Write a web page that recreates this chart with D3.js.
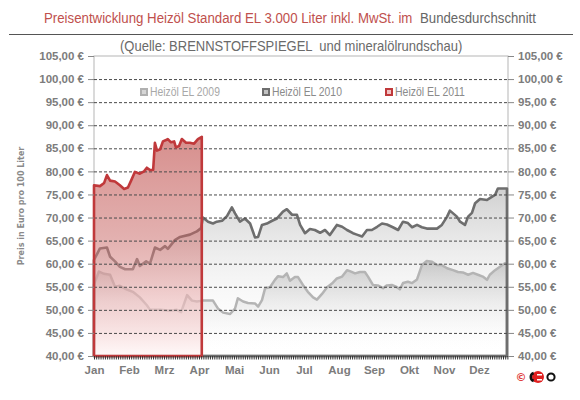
<!DOCTYPE html>
<html><head><meta charset="utf-8">
<script src="https://cdn.jsdelivr.net/npm/d3@7"></script>
<style>body{margin:0;background:#fff}svg{display:block}</style>
</head><body><svg id="c" width="580" height="400"></svg>
<script>
const months = ["Jan","Feb","Mrz","Apr","Mai","Jun","Jul","Aug","Sep","Okt","Nov","Dez"];
const yTicks = [40,45,50,55,60,65,70,75,80,85,90,95,100,105];
const seriesNames = ["Heizöl EL 2009","Heizöl EL 2010","Heizöl EL 2011"];

// time positions in months from 1 Jan, values in € per 100 l
const t2009 = [0,0.14,0.29,0.46,0.6,0.74,0.94,1.11,1.31,1.51,1.6,1.89,2.17,2.37,2.49,2.66,2.8,2.94,3.11,3.4,3.54,3.69,3.89,4.03,4.11,4.26,4.4,4.6,4.69,4.8,4.89,5.03,5.17,5.26,5.4,5.51,5.6,5.74,5.83,5.97,6.11,6.26,6.37,6.51,6.66,6.8,6.94,7.09,7.23,7.31,7.46,7.6,7.74,7.83,7.97,8.11,8.26,8.37,8.51,8.66,8.74,8.83,8.97,9.09,9.23,9.37,9.51,9.66,9.8,9.94,10.09,10.26,10.4,10.54,10.69,10.83,10.97,11.11,11.23,11.31,11.46,11.6,11.74,11.8];
const v2009 = [55.5,58.3,57.8,57.6,55.0,55.2,54.4,53.9,52.7,51.0,50.0,50.0,49.8,50.0,49.5,53.2,52.0,51.8,52.0,52.0,50.3,49.4,49.1,50.3,52.5,51.8,51.5,51.4,50.7,52.1,54.7,54.9,56.5,57.3,57.1,57.9,56.3,57.1,57.1,55.4,53.9,52.7,52.2,53.4,54.9,55.7,56.8,57.2,58.6,58.4,57.9,58.2,58.2,57.2,55.4,55.3,54.7,55.3,55.4,54.9,54.45,55.8,56.1,55.8,56.6,59.7,60.6,60.4,59.7,59.7,59.0,58.6,58.2,58.1,57.6,58.0,57.6,57.2,56.5,57.6,58.6,59.35,60.1,60.0];

const t2010 = [0,0.17,0.37,0.46,0.6,0.74,0.89,1.11,1.23,1.31,1.49,1.6,1.74,1.89,2.03,2.11,2.31,2.46,2.74,2.94,3.06,3.11,3.26,3.4,3.51,3.66,3.8,3.94,4.03,4.17,4.31,4.46,4.6,4.69,4.8,4.94,5.09,5.23,5.4,5.51,5.66,5.8,5.89,6.03,6.17,6.31,6.46,6.6,6.74,6.94,7.09,7.23,7.4,7.51,7.66,7.8,7.94,8.09,8.23,8.37,8.54,8.69,8.83,8.97,9.09,9.23,9.37,9.51,9.8,9.94,10.09,10.17,10.37,10.46,10.6,10.69,10.8,10.89,11.03,11.23,11.31,11.46,11.54,11.74,11.8];
const v2010 = [60.8,63.3,63.5,61.5,60.5,59.3,58.8,58.8,61.0,59.5,60.5,60.0,63.5,63.0,63.8,63.2,65.1,65.8,66.3,67.0,67.7,70.0,69.1,68.7,69.1,69.3,70.3,72.2,70.9,69.1,69.8,68.7,65.7,65.8,68.4,68.7,69.3,69.8,71.3,71.8,70.6,70.6,68.4,66.6,67.5,67.3,66.7,67.3,66.2,68.4,68.0,67.3,66.6,66.3,65.9,67.3,67.3,68.0,68.7,68.5,67.9,67.3,69.1,68.8,67.9,68.4,67.9,67.6,67.6,68.4,70.2,71.5,70.2,69.1,68.4,70.2,71.0,73.1,74.0,73.8,74.2,74.9,76.3,76.3,76.3];

const t2011 = [0,0.17,0.29,0.37,0.46,0.6,0.74,0.86,0.97,1.06,1.17,1.31,1.43,1.51,1.6,1.69,1.74,1.8,1.89,1.97,2.06,2.11,2.2,2.29,2.34,2.43,2.51,2.63,2.74,2.86,2.97,3.08];
const v2011 = [77.0,76.8,77.5,79.2,78.0,77.8,77.0,76.2,76.5,78.0,79.9,79.5,80.0,80.8,80.3,80.3,86.2,84.5,84.8,86.5,86.8,87.0,86.3,86.5,85.2,85.5,87.0,86.2,86.2,86.0,87.0,87.5];

const svg = d3.select("#c");
const x = d3.scaleLinear().domain([0, 11.83]).range([94, 508]);
const y = d3.scaleLinear().domain([40, 105]).range([356, 56]);

const loc = d3.formatLocale({decimal: ",", thousands: ".", grouping: [3], currency: ["", " €"]});
const fmt = loc.format("$.2f");

const defs = svg.append("defs");
function grad(id, stops) {
  const g = defs.append("linearGradient").attr("id", id).attr("x1", 0).attr("y1", 0).attr("x2", 0).attr("y2", 1);
  stops.forEach(s => g.append("stop").attr("offset", s[0]).attr("stop-color", s[1]).attr("stop-opacity", s[2]));
}
grad("gGray", [[0, "#8f8f8f", 0.42], [1, "#ffffff", 0.0]]);
grad("gRed", [[0, "#c0504d", 0.64], [0.45, "#c86664", 0.52], [0.75, "#eebbbb", 0.62], [1, "#fff8f8", 0.9]]);

const FONT = "Liberation Sans, Arial, sans-serif";

// condensed text: natural font, squeezed horizontally to a target width
function squeezed(parent, x0, y0, width, size, fill, str) {
  const g = parent.append("g");
  const t = g.append("text").attr("x", 0).attr("y", 0).attr("font-family", FONT).attr("font-size", size).attr("fill", fill).text(str);
  const w = t.node().getComputedTextLength();
  g.attr("transform", `translate(${x0},${y0}) scale(${width / w},1)`);
  return t;
}

// Title
squeezed(svg, 44, 23, 369, 14.5, "#c0504d", "Preisentwicklung Heizöl Standard EL 3.000 Liter inkl. MwSt. im");
squeezed(svg, 420, 23, 116, 14.5, "#666", "Bundesdurchschnitt");
svg.append("line").attr("x1", 9).attr("x2", 573).attr("y1", 34.5).attr("y2", 34.5).attr("stroke", "#555").attr("stroke-width", 1);
squeezed(svg, 120, 51, 339, 14, "#6a6a6a", "(Quelle: BRENNSTOFFSPIEGEL  und mineralölrundschau)").attr("xml:space", "preserve");

// Plot frame
svg.append("rect").attr("x", x(0)).attr("y", y(105)).attr("width", x(11.83) - x(0)).attr("height", y(40) - y(105))
  .attr("fill", "none").attr("stroke", "#b5b5b5").attr("stroke-width", 1);

// Areas
const area = (ts, vs) => d3.area().x(d => x(d[0])).y0(y(40)).y1(d => y(d[1]))(d3.zip(ts, vs));

svg.append("path").attr("d", area(t2010, v2010)).attr("fill", "url(#gGray)");
svg.append("path").attr("d", area(t2009, v2009)).attr("fill", "url(#gGray)");
svg.append("path").attr("d", area(t2009, v2009)).attr("fill", "none").attr("stroke", "#b4b4b4").attr("stroke-width", 2.5).attr("stroke-linejoin", "round");
svg.append("path").attr("d", area(t2010, v2010)).attr("fill", "none").attr("stroke", "#6e6e6e").attr("stroke-width", 2.6).attr("stroke-linejoin", "round");
svg.append("path").attr("d", area(t2011, v2011)).attr("fill", "url(#gRed)");

// Gridlines
svg.append("g").selectAll("line").data(yTicks.filter(v => v > 40 && v < 105)).join("line")
  .attr("x1", x(0)).attr("x2", x(11.83)).attr("y1", d => y(d) + 0.5).attr("y2", d => y(d) + 0.5)
  .attr("stroke", "#4a4a4a").attr("stroke-width", 1).attr("stroke-dasharray", "3,2");

// Red outline
svg.append("path").attr("d", area(t2011, v2011)).attr("fill", "none").attr("stroke", "#c0393b").attr("stroke-width", 2.6).attr("stroke-linejoin", "round");

// Bottom minor ticks
svg.append("g").selectAll("line").data(d3.range(0, 11.83, 1 / 16)).join("line")
  .attr("x1", d => x(d) + 0.5).attr("x2", d => x(d) + 0.5).attr("y1", y(40)).attr("y2", y(40) + 3.5)
  .attr("stroke", "#333").attr("stroke-width", 1);

// Y axes
const yAxL = d3.axisLeft(y).tickValues(yTicks).tickSize(6).tickPadding(4).tickFormat(fmt);
const yAxR = d3.axisRight(y).tickValues(yTicks).tickSize(6).tickPadding(4).tickFormat(fmt);
function styleAxis(g) {
  g.select(".domain").remove();
  g.selectAll(".tick line").attr("stroke", "#888");
  g.selectAll(".tick text").attr("fill", "#7c7c7c").attr("font-family", FONT)
    .attr("font-size", 11.5).attr("font-weight", "bold");
}
svg.append("g").attr("transform", `translate(${x(0)},0)`).call(yAxL).call(styleAxis);
svg.append("g").attr("transform", `translate(${x(11.83)},0)`).call(yAxR).call(styleAxis);

// X axis labels
const xAx = d3.axisBottom(x).tickValues(d3.range(0, 12)).tickSize(0).tickPadding(10).tickFormat(i => months[i]);
svg.append("g").attr("transform", `translate(0,${y(40)})`).call(xAx).call(g => {
  g.select(".domain").remove();
  g.selectAll(".tick text").attr("fill", "#7c7c7c").attr("font-family", FONT)
    .attr("font-size", 11.5).attr("font-weight", "bold");
});

// Y title
svg.append("text").attr("transform", "translate(24,206) rotate(-90)").attr("text-anchor", "middle")
  .attr("font-family", "DejaVu Sans, sans-serif").attr("font-size", 8).attr("font-weight", "bold").attr("fill", "#8a8a8a")
  .text("Preis in Euro pro 100 Liter");

// Legend
const legX = [140, 262, 385];
const legCol = [["#b0b0b0", "#d6d6d6", "#a8a8a8"], ["#6e6e6e", "#c2c2c2", "#8a8a8a"], ["#c0393b", "#f1c3c3", "#8a8a8a"]];
seriesNames.forEach((name, i) => {
  const g = svg.append("g").attr("transform", `translate(${legX[i]},92)`);
  g.append("rect").attr("x", 0).attr("y", -4).attr("width", 8).attr("height", 8).attr("fill", legCol[i][0]);
  g.append("rect").attr("x", 2).attr("y", -2).attr("width", 4).attr("height", 4).attr("fill", legCol[i][1]);
  squeezed(g, 10, 4, 70, 12, legCol[i][2], name);
});

// Logo
const logo = svg.append("g");
logo.append("text").attr("x", 521).attr("y", 381).attr("text-anchor", "middle").attr("font-family", "DejaVu Sans, sans-serif")
  .attr("font-size", 11).attr("font-weight", "bold").attr("fill", "#e04040").text("©");
logo.append("circle").attr("cx", 538).attr("cy", 377).attr("r", 6).attr("fill", "#e02020");
logo.append("path").attr("d", d3.arc()({innerRadius: 3, outerRadius: 5.5, startAngle: Math.PI * 1.1, endAngle: Math.PI * 1.9})).attr("transform", "translate(535,377)").attr("fill", "#111");
logo.append("rect").attr("x", 537).attr("y", 374).attr("width", 5).attr("height", 1.5).attr("fill", "#fff");
logo.append("rect").attr("x", 537).attr("y", 379).attr("width", 5).attr("height", 1.5).attr("fill", "#fff");
logo.append("circle").attr("cx", 551).attr("cy", 377).attr("r", 3.6).attr("fill", "none").attr("stroke", "#111").attr("stroke-width", 2);
</script></body></html>
